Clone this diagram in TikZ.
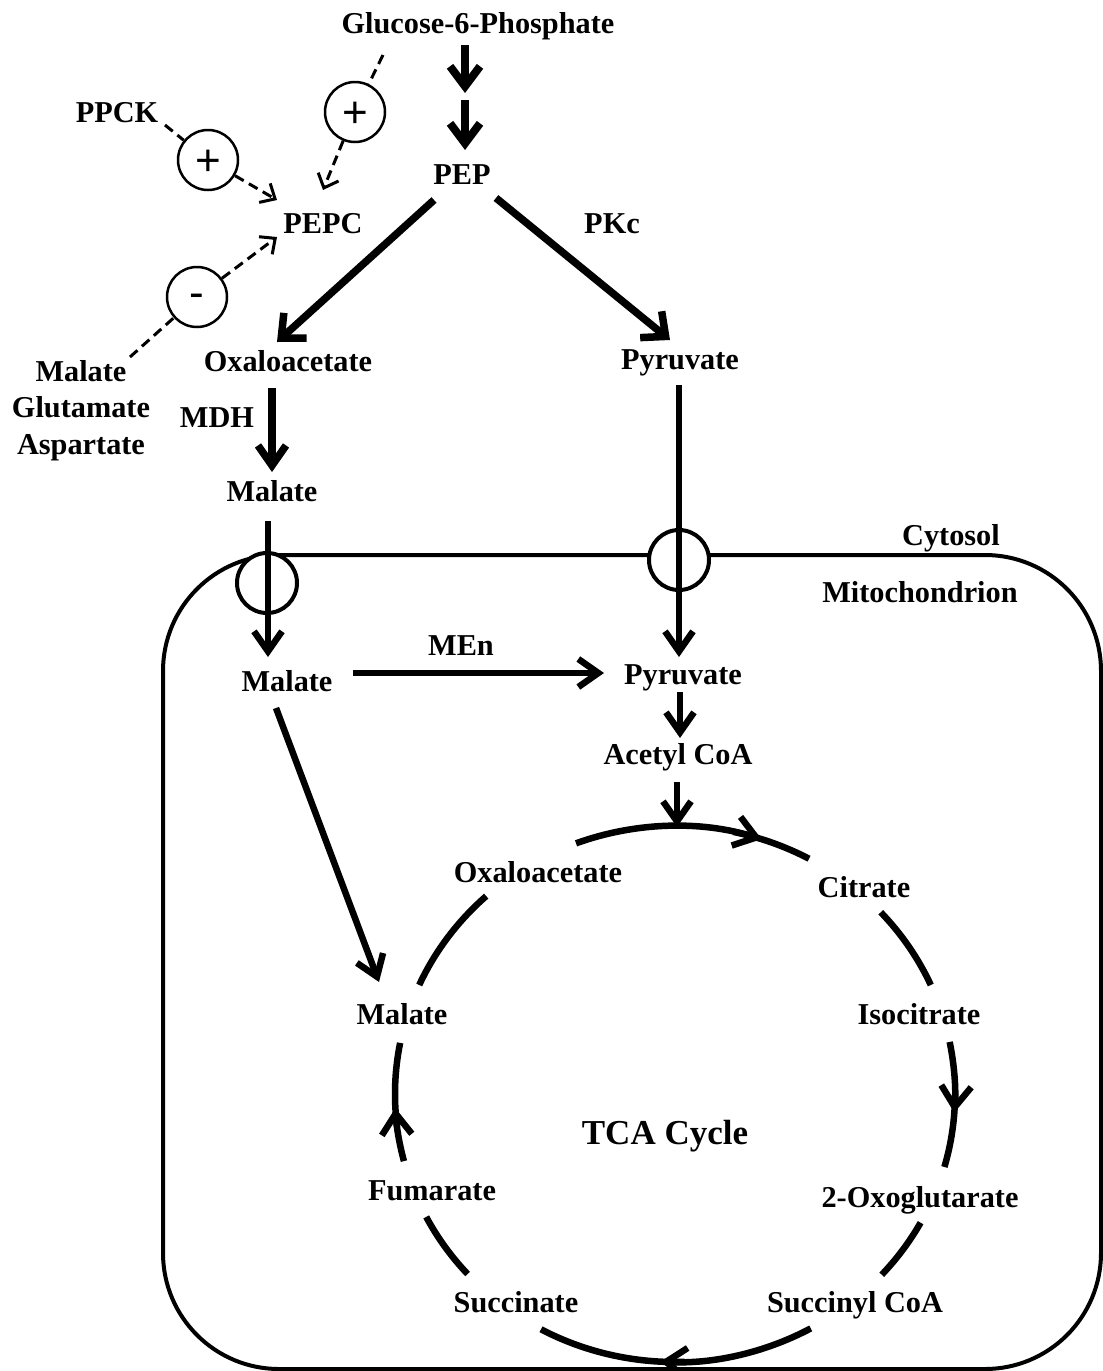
\documentclass[tikz,border=0pt]{standalone}
\usepackage{fontspec}
\setmainfont{Liberation Serif}
\newfontfamily\signfont{Liberation Sans}
\usetikzlibrary{arrows.meta,calc}
\begin{document}
\begin{tikzpicture}[x=1pt,y=-1pt,
  lbl/.style={font=\bfseries\fontsize{30.3}{34}\selectfont, inner sep=0pt, text height=20pt, text depth=0pt},
  bigtxt/.style={font=\bfseries\fontsize{35}{40}\selectfont, inner sep=0pt, text height=23pt, text depth=0pt},
  sign/.style={circle, draw, fill=white, line width=2.5pt, minimum size=60pt, inner sep=0pt, text height=0pt, text depth=0pt, font=\signfont\fontsize{44}{44}\selectfont},
  port/.style={circle, draw, fill=white, line width=4pt, minimum size=60pt, inner sep=0pt},
  g6arr/.style={line width=8pt, -{Straight Barb[length=20pt,width=30pt]}},
  cytarr/.style={line width=7.5pt, -{Straight Barb[length=19pt,width=34pt]}},
  arr/.style={line width=6.5pt, -{Straight Barb[length=20pt,width=28pt]}},
  cycline/.style={line width=6.5pt},
  cycarr/.style={line width=6.5pt, -{Straight Barb[length=21pt,width=30pt]}},
  dashline/.style={line width=3pt, dash pattern=on 10pt off 6pt},
  dasharr/.style={line width=3pt, dash pattern=on 10pt off 6pt, -{Straight Barb[length=12pt,width=22pt]}},
  membrane/.style={line width=4pt, rounded corners=116pt}
]
\useasboundingbox (0,0) rectangle (1103,1371);

% mitochondrion outline
\draw[membrane] (163,555) rectangle (1101,1369);

% transporters
\node[port] (tp1) at (267,583) {};
\node[port] (tp2) at (679,560) {};

% labels
\node[lbl] (g6p) at (478,23) {Glucose-6-Phosphate};
\node[lbl] (pep) at (462,174) {PEP};
\node[lbl] (pepc) at (323,223) {PEPC};
\node[lbl] (pkc) at (612,223) {PKc};
\node[lbl] (ppck) at (117,112) {PPCK};
\node[lbl] (oaa) at (288,361) {Oxaloacetate};
\node[lbl] (pyr) at (680,359) {Pyruvate};
\node[lbl] (mal0) at (81,371) {Malate};
\node[lbl] (glu) at (81,407) {Glutamate};
\node[lbl] (asp) at (81,444) {Aspartate};
\node[lbl] (mdh) at (217,417) {MDH};
\node[lbl] (mal1) at (272,491) {Malate};
\node[lbl] (cyto) at (951,535) {Cytosol};
\node[lbl] (mito) at (920,592) {Mitochondrion};
\node[lbl] (mal2) at (287,681) {Malate};
\node[lbl] (men) at (461,645) {MEn};
\node[lbl] (pyrm) at (683,674) {Pyruvate};
\node[lbl] (acoa) at (678,754) {Acetyl CoA};
\node[lbl] (oaa2) at (538,872) {Oxaloacetate};
\node[lbl] (cit) at (864,887) {Citrate};
\node[lbl] (mal3) at (402,1014) {Malate};
\node[lbl] (icit) at (919,1014) {Isocitrate};
\node[bigtxt] (tca) at (665,1133) {TCA Cycle};
\node[lbl] (fum) at (432,1190) {Fumarate};
\node[lbl] (oxo) at (920,1197) {2-Oxoglutarate};
\node[lbl] (suc) at (516,1302) {Succinate};
\node[lbl] (sca) at (855,1302) {Succinyl CoA};

% regulation signs
\node[sign] (s1) at (208,160) {\raisebox{-15pt}{+}};
\node[sign] (s2) at (355,112) {\raisebox{-15pt}{+}};
\node[sign] (s3) at (197,297) {\raisebox{-10.8pt}{-}};

% glycolysis
\draw[g6arr] ($(g6p)+(-13,22)$) -- ($(g6p)+(-13,70)$);
\draw[g6arr] ($(g6p)+(-13,77)$) -- ($(pep)+(3,-24)$);
\draw[cytarr] ($(pep)+(-28,26)$) -- ($(oaa)+(-11,-19)$);
\draw[cytarr] ($(pep)+(34,24)$) -- ($(pyr)+(-10,-19)$);
\draw[arr, line width=7.5pt] ($(oaa)+(-16,27)$) -- ($(mal1)+(0,-19)$);

% transport into mitochondrion
\draw[arr] ($(pyr)+(-1,26)$) -- ($(pyrm)+(-4,-17)$);
\draw[arr] ($(mal1)+(-4,30)$) -- ($(mal2)+(-19,-24)$);

% mitochondrial reactions
\draw[arr] ($(mal2)+(66,-8)$) -- ($(pyrm)+(-79,-1)$);
\draw[arr] ($(pyrm)+(-3,18)$) -- ($(acoa)+(2,-16)$);
\coordinate (cyc) at (675,1094);
\draw[arr] ($(acoa)+(-1,28)$) -- ($(cyc)+(2,-267)$);
\draw[arr] ($(mal2)+(-11,27)$) -- ($(mal3)+(-23,-32)$);

% regulation of PEPC
\draw[dashline] ($(ppck)+(48,13)$) -- (s1);
\draw[dasharr] (s1) -- ($(pepc)+(-46,-23)$);
\draw[dashline] ($(s2)+(28,-57)$) -- (s2);
\draw[dasharr] (s2) -- ($(pepc)+(0,-33)$);
\draw[dashline] ($(mal0)+(49,-14)$) -- (s3);
\draw[dasharr] (s3) -- ($(pepc)+(-46,14)$);

% TCA cycle arcs
\draw[cycarr] ($(cyc)+(249.3:280 and 268)$) arc[start angle=249.3, end angle=288, x radius=280, y radius=268];
\draw[cycline] ($(cyc)+(282:280 and 268)$) arc[start angle=282, end angle=298.6, x radius=280, y radius=268];
\draw[cycline] ($(cyc)+(317.3:280 and 268)$) arc[start angle=317.3, end angle=336, x radius=280, y radius=268];
\draw[cycarr] ($(cyc)+(348.8:280 and 268)$) arc[start angle=348.8, end angle=364, x radius=280, y radius=268];
\draw[cycline] ($(cyc)+(360:280 and 268)$) arc[start angle=360, end angle=375.8, x radius=280, y radius=268];
\draw[cycline] ($(cyc)+(28.7:280 and 268)$) arc[start angle=28.7, end angle=42.4, x radius=280, y radius=268];
\draw[cycarr] ($(cyc)+(61:280 and 268)$) arc[start angle=61, end angle=93, x radius=280, y radius=268];
\draw[cycline] ($(cyc)+(88:280 and 268)$) arc[start angle=88, end angle=118.6, x radius=280, y radius=268];
\draw[cycline] ($(cyc)+(137.8:280 and 268)$) arc[start angle=137.8, end angle=152.7, x radius=280, y radius=268];
\draw[cycarr] ($(cyc)+(165.5:280 and 268)$) arc[start angle=165.5, end angle=177, x radius=280, y radius=268];
\draw[cycline] ($(cyc)+(173:280 and 268)$) arc[start angle=173, end angle=191, x radius=280, y radius=268];
\draw[cycline] ($(cyc)+(204:280 and 268)$) arc[start angle=204, end angle=227.6, x radius=280, y radius=268];
\end{tikzpicture}
\end{document}
